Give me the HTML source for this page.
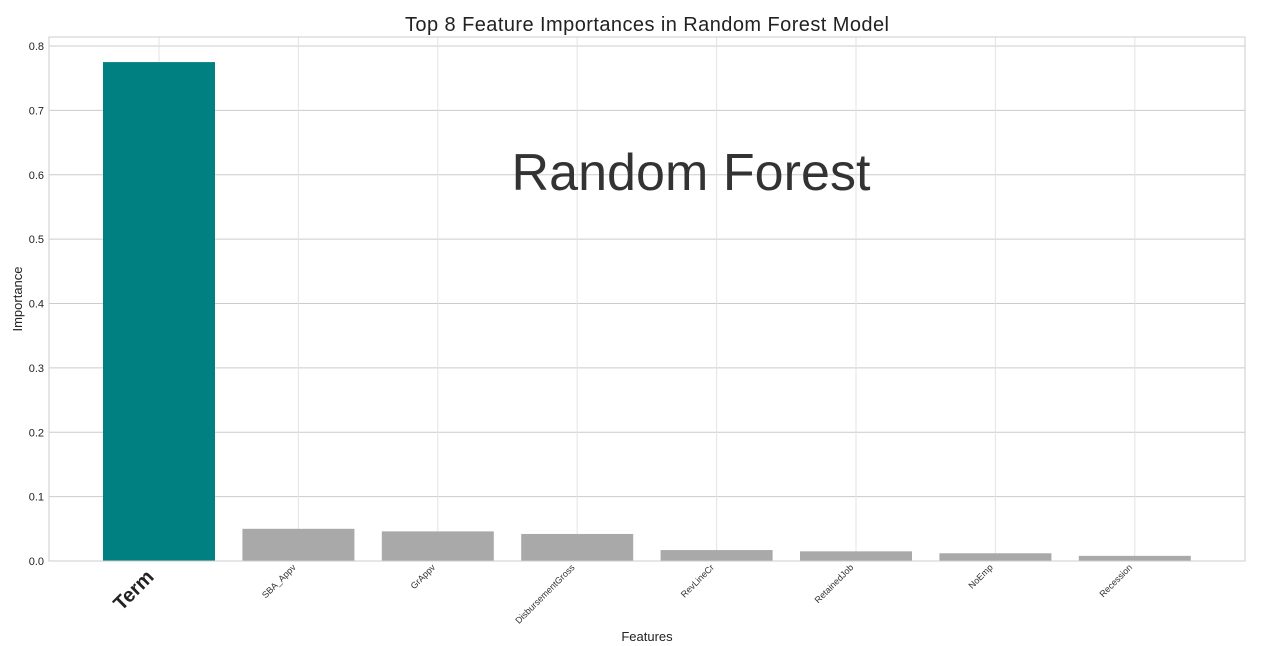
<!DOCTYPE html>
<html><head><meta charset="utf-8"><style>
html,body{margin:0;padding:0;background:#fff;}
svg{display:block;font-family:"Liberation Sans",sans-serif;}
</style></head><body>
<svg id="chart" width="1264" height="646">
<text x="647" y="31" text-anchor="middle" font-size="20" textLength="484" fill="#222">Top 8 Feature Importances in Random Forest Model</text>
<g id="grid"></g>
<g id="bars"></g>
<g id="xlabels"></g>
<rect x="49" y="37" width="1196" height="524" fill="none" stroke="#ccc" stroke-width="1"/>
<text x="691" y="190" text-anchor="middle" font-size="52" textLength="359" fill="#333">Random Forest</text>
<text x="647" y="641" text-anchor="middle" font-size="13" fill="#222">Features</text>
<text transform="translate(22,299) rotate(-90)" text-anchor="middle" font-size="13" fill="#222">Importance</text>
</svg>
<script>
const categories=["Term","SBA_Appv","GrAppv","DisbursementGross","RevLineCr","RetainedJob","NoEmp","Recession"];
const importances=[0.775,0.050,0.046,0.042,0.017,0.015,0.012,0.008];
const yTicks=[0,0.1,0.2,0.3,0.4,0.5,0.6,0.7,0.8];
const NS="http://www.w3.org/2000/svg";
const y0=561,pxPer=(561-46)/0.8;
function yS(v){return y0-v*pxPer;}
function xS(i){return 159+i*139.4;}
const bw=112;
const grid=document.getElementById('grid'),bars=document.getElementById('bars'),xl=document.getElementById('xlabels');
function mk(tag,attrs,parent){const e=document.createElementNS(NS,tag);for(const k in attrs)e.setAttribute(k,attrs[k]);parent.appendChild(e);return e;}
yTicks.forEach(t=>{
  const l=mk('line',{x1:49,x2:1245,y1:yS(t),y2:yS(t),stroke:'#ccc','stroke-width':1},grid);
  
  
  const tx=mk('text',{x:44,y:yS(t)+4,'text-anchor':'end','font-size':11,fill:'#222'},grid);
  tx.textContent=t.toFixed(1);
  
  
});
categories.forEach((c,i)=>{
  const g=mk('line',{x1:xS(i),x2:xS(i),y1:37,y2:561,stroke:'#e3e3e3','stroke-width':1},grid);
  
  
  const r=mk('rect',{x:xS(i)-bw/2,y:yS(importances[i]),width:bw,height:y0-yS(importances[i]),fill:i===0?'#008080':'#a9a9a9'},bars);
  
  
  const big=i===0;
  const t=mk('text',{'text-anchor':'end','font-size':big?20:9,'font-weight':big?'bold':'normal',fill:big?'#222':'#333',
    transform:`translate(${xS(i)-(big?4:2)},${big?578:568}) rotate(-45)`},xl);
  t.textContent=c;
  
  
});
</script>
</body></html>
